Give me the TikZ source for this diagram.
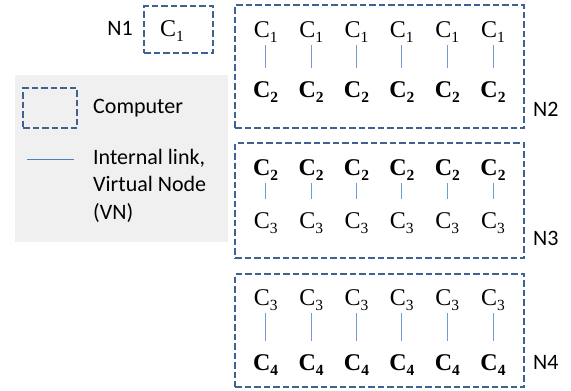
\documentclass[tikz,border=0pt]{standalone}
\usepackage{fontspec}
\setmainfont{Liberation Serif}
\newfontfamily\calib{Carlito}
\newcommand\Cs[1]{C\raisebox{-5pt}{\fontsize{15.5}{15.5}\selectfont #1}}
\definecolor{boxblue}{HTML}{41628E}
\definecolor{linkblue}{HTML}{6F9BD2}
\definecolor{legendblue}{HTML}{4F7FBA}
\definecolor{legendgray}{HTML}{F0F0F0}
\tikzset{
  cbox/.style={draw=boxblue, line width=2pt, dash pattern=on 6.5pt off 3pt, inner sep=0pt},
  cnode/.style={anchor=base, inner sep=0pt, font=\fontsize{24}{24}\selectfont},
  link/.style={draw=linkblue, line width=1pt, shorten <=3pt, shorten >=13pt},
  lab/.style={anchor=west, inner sep=0pt, font=\calib\fontsize{22}{27.5}\selectfont, align=left}
}
\begin{document}
\begin{tikzpicture}[x=1pt,y=-1pt]
\useasboundingbox (0,0) rectangle (571,391);
% legend
\fill[legendgray] (15,75) rectangle (228,242);
\node[cbox, minimum width=54pt, minimum height=40pt] (legbox) at (50,108) {};
\node[lab] (legcomp) at (93,108) {Computer};
\coordinate (legA) at (27,159);
\coordinate (legB) at (74,159);
\draw[draw=legendblue, line width=0.8pt] (legA) -- (legB);
\node[lab, anchor=north west] (leglink) at (93,149) {Internal link,\\Virtual Node\\(VN)};
% N1
\node[cbox, minimum width=69pt, minimum height=47pt] (n1box) at (178.5,29.5) {};
\node[cnode] (n1c) at (172,36) {\Cs{1}};
\node[lab, anchor=east] (n1lab) at (133,28) {N1};
% big boxes
\node[cbox, minimum width=289pt, minimum height=123pt] (n2box) at (379.5,66.5) {};
\node[cbox, minimum width=289pt, minimum height=115pt] (n3box) at (379.5,200.5) {};
\node[cbox, minimum width=289pt, minimum height=113pt] (n4box) at (379.5,330.5) {};
\node[lab] (n2lab) at (533,109) {N2};
\node[lab] (n3lab) at (533,238) {N3};
\node[lab] (n4lab) at (533,362) {N4};
\foreach \i/\x in {1/265.7,2/311.2,3/356.5,4/401.8,5/447.3,6/493} {
  \node[cnode] (a\i) at (\x,37) {\Cs{1}};
  \node[cnode] (b\i) at (\x,97) {\bfseries\Cs{2}};
  \draw[link] (a\i.south) -- (b\i.north);
  \node[cnode] (c\i) at (\x,175) {\bfseries\Cs{2}};
  \node[cnode] (d\i) at (\x,228) {\Cs{3}};
  \draw[link] (c\i.south) -- (d\i.north);
  \node[cnode] (e\i) at (\x,305) {\Cs{3}};
  \node[cnode] (f\i) at (\x,370) {\bfseries\Cs{4}};
  \draw[link] (e\i.south) -- (f\i.north);
}
\end{tikzpicture}
\end{document}
